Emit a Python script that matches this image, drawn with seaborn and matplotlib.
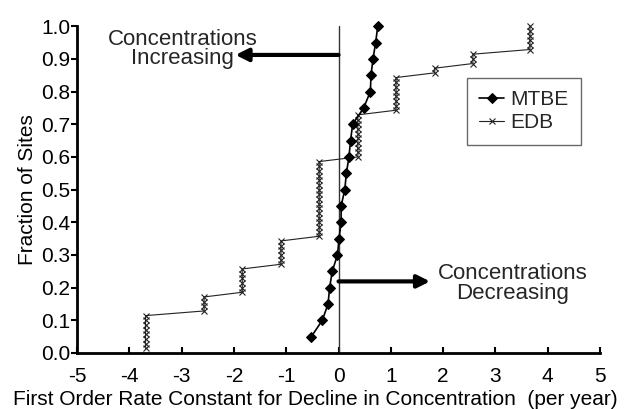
import numpy as np
import pandas as pd
import matplotlib
matplotlib.use("Agg")
import matplotlib.pyplot as plt
import seaborn as sns

# MTBE: sorted rate constants (per year) and their cumulative fraction of sites
mtbe_rate = [-0.52, -0.31, -0.20, -0.17, -0.12, -0.02, 0.01, 0.05, 0.05, 0.12,
             0.15, 0.20, 0.23, 0.27, 0.48, 0.61, 0.62, 0.66, 0.71, 0.75]
mtbe_fraction = [0.05, 0.10, 0.15, 0.20, 0.25, 0.30, 0.35, 0.40, 0.45, 0.50,
                 0.55, 0.60, 0.65, 0.70, 0.75, 0.80, 0.85, 0.90, 0.95, 1.00]

# EDB: distinct rate constants and number of sites sharing each value
edb_rate = [-3.69, -2.57, -1.84, -1.10, -0.37, 0.37, 1.10, 1.84, 2.57, 3.66]
edb_count = [8, 4, 6, 6, 17, 10, 8, 2, 3, 6]

x_ticks = [-5, -4, -3, -2, -1, 0, 1, 2, 3, 4, 5]
y_ticks = [0.0, 0.1, 0.2, 0.3, 0.4, 0.5, 0.6, 0.7, 0.8, 0.9, 1.0]


def main():
    edb_vals = np.repeat(edb_rate, edb_count)
    n_edb = len(edb_vals)
    edb_frac = np.arange(1, n_edb + 1) / n_edb

    df_mtbe = pd.DataFrame({"rate": mtbe_rate, "frac": mtbe_fraction})
    df_edb = pd.DataFrame({"rate": edb_vals, "frac": edb_frac})

    sns.set_style("ticks")
    plt.rcParams['font.family'] = ["Liberation Sans", "DejaVu Sans"]
    plt.rcParams['axes.unicode_minus'] = False
    plt.rcParams['font.size'] = 15
    plt.rcParams['axes.labelsize'] = 15
    plt.rcParams['xtick.labelsize'] = 15
    plt.rcParams['ytick.labelsize'] = 15
    plt.rcParams['legend.fontsize'] = 15

    fig = plt.figure(figsize=(6.27, 4.09), dpi=100)
    ax = fig.add_axes([0.1228, 0.137, 0.8342, 0.799])

    ax.axvline(0.0, ymin=0, ymax=1, color="#333333", lw=1.0, zorder=1)

    sns.lineplot(data=df_mtbe, x="rate", y="frac", sort=False,
                 estimator=None, color="black", lw=1.2, marker="D",
                 markersize=5.5, markeredgecolor="black", label="MTBE",
                 ax=ax, clip_on=False, zorder=3)
    sns.lineplot(data=df_edb, x="rate", y="frac", sort=False,
                 estimator=None, color="#222222", lw=0.8, marker="x",
                 markersize=4, markeredgewidth=0.8,
                 markeredgecolor="#222222", label="EDB",
                 ax=ax, clip_on=False, zorder=2)

    # direction arrows
    arrow = dict(arrowstyle="-|>,head_length=0.5,head_width=0.25", lw=3,
                 color="black", shrinkA=0, shrinkB=0)
    ax.annotate("", xy=(-1.97, 0.912), xytext=(0.0, 0.912), arrowprops=arrow)
    ax.annotate("", xy=(1.75, 0.219), xytext=(0.0, 0.219), arrowprops=arrow)
    ax.text(-2.98, 0.93, "Concentrations\nIncreasing", ha="center",
            va="center", linespacing=0.9, fontsize=16)
    ax.text(3.33, 0.212, "Concentrations\nDecreasing", ha="center",
            va="center", linespacing=0.9, fontsize=16)

    ax.set_xlim(-5, 5)
    ax.set_ylim(0, 1.0)
    ax.set_xticks(x_ticks)
    ax.set_yticks(y_ticks)
    ax.set_yticklabels(["%.1f" % v for v in y_ticks])
    ax.tick_params(axis="x", direction="in", length=4, width=1.5, pad=10,
                   colors="black")
    ax.tick_params(axis="y", direction="out", length=4, width=1.5, pad=1,
                   colors="black")
    sns.despine(ax=ax)
    ax.spines["left"].set_linewidth(2)
    ax.spines["bottom"].set_linewidth(2)
    ax.spines["left"].set_color("black")
    ax.spines["bottom"].set_color("black")

    ax.set_xlabel("First Order Rate Constant for Decline in Concentration  (per year)",
                  color="black")
    ax.xaxis.set_label_coords(0.455, -0.113)
    ax.set_ylabel("Fraction of Sites", labelpad=3, color="black")

    leg = ax.legend(loc="upper left", bbox_to_anchor=(0.745, 0.842),
                    borderaxespad=0, frameon=True, fancybox=False,
                    handlelength=1.2, handletextpad=0.3, borderpad=0.6,
                    labelspacing=0.2)
    leg.get_frame().set_edgecolor("#444444")
    leg.get_frame().set_linewidth(1.0)

    fig.savefig("out.png", dpi=100)


if __name__ == "__main__":
    main()
